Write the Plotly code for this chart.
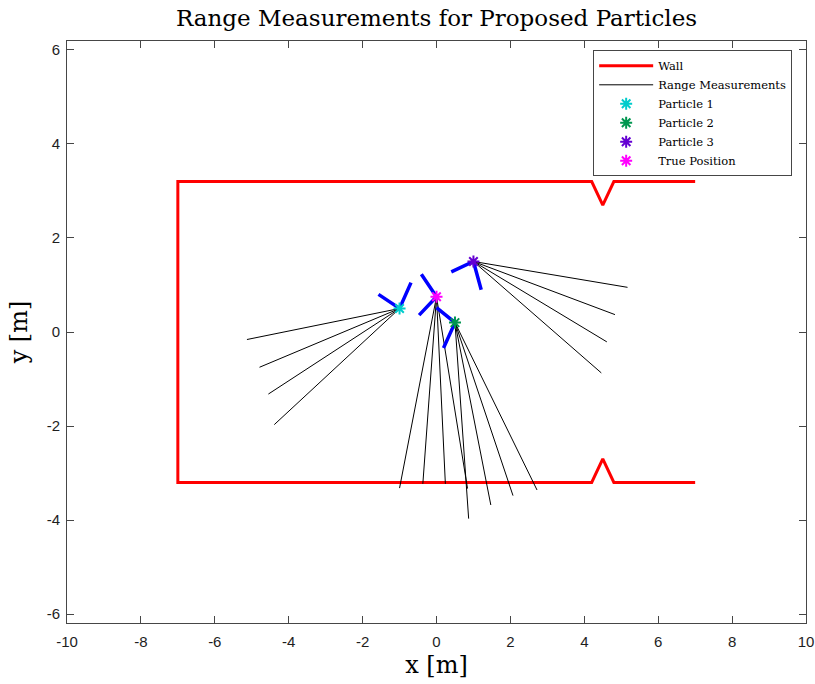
import plotly.graph_objects as go

# ---- data ----
wall_x = [7, 4.8, 4.5, 4.2, -7, -7, 4.2, 4.5, 4.8, 7]
wall_y = [3.2, 3.2, 2.7, 3.2, 3.2, -3.2, -3.2, -2.7, -3.2, -3.2]

names = ["Particle 1", "Particle 2", "Particle 3", "True Position"]
pos_x = [-1.0, 0.5, 1.0, 0.0]
pos_y = [0.5, 0.2, 1.5, 0.75]
colors = ["rgb(0,204,204)", "rgb(0,150,80)", "rgb(100,0,210)", "rgb(255,0,255)"]

# heading glyph endpoints (two segments per pose)
head_a_x = [-1.57, 0.0, 0.40, -0.41]
head_a_y = [0.80, 0.52, 1.28, 1.23]
head_b_x = [-0.69, 0.19, 1.21, -0.47]
head_b_y = [1.05, -0.34, 0.90, 0.36]

# range measurement end points, per pose
range_end_x = [
    [-5.13, -4.79, -4.55, -4.39],
    [0.87, 1.47, 2.07, 2.72],
    [5.17, 4.83, 4.61, 4.46],
    [-1.00, -0.37, 0.24, 0.84],
]
range_end_y = [
    [-0.16, -0.75, -1.32, -1.97],
    [-3.97, -3.68, -3.48, -3.36],
    [0.95, 0.37, -0.21, -0.87],
    [-3.32, -3.23, -3.23, -3.33],
]

x_ticks = [-10, -8, -6, -4, -2, 0, 2, 4, 6, 8, 10]
y_ticks = [-6, -4, -2, 0, 2, 4, 6]

# ---- figure ----
fig = go.Figure()
serif = "DejaVu Serif"

fig.add_trace(go.Scatter(x=wall_x, y=wall_y, mode="lines", name="Wall",
                         line=dict(color="rgb(255,0,0)", width=3)))

rx, ry = [], []
for i in range(len(pos_x)):
    for ex, ey in zip(range_end_x[i], range_end_y[i]):
        rx += [pos_x[i], ex, None]
        ry += [pos_y[i], ey, None]
fig.add_trace(go.Scatter(x=rx, y=ry, mode="lines", name="Range Measurements",
                         line=dict(color="black", width=1)))

hx, hy = [], []
for i in range(len(pos_x)):
    hx += [head_a_x[i], pos_x[i], head_b_x[i], None]
    hy += [head_a_y[i], pos_y[i], head_b_y[i], None]
fig.add_trace(go.Scatter(x=hx, y=hy, mode="lines", showlegend=False,
                         line=dict(color="rgb(0,0,255)", width=3.5)))

for i in range(len(pos_x)):
    fig.add_trace(go.Scatter(x=[pos_x[i]], y=[pos_y[i]], mode="markers", name=names[i],
                             marker=dict(symbol="asterisk-open", size=10,
                                         color=colors[i],
                                         line=dict(color=colors[i], width=2))))

axis_common = dict(showline=True, linecolor="rgb(70,70,70)", linewidth=1,
                   mirror="ticks", ticks="inside", ticklen=7, tickwidth=1,
                   tickcolor="rgb(70,70,70)", showgrid=False, zeroline=False,
                   automargin=False,
                   tickfont=dict(family="Liberation Sans", size=15, color="rgb(30,30,30)"))

fig.update_layout(
    width=815, height=684,
    margin=dict(l=67, r=9, t=41, b=61),
    paper_bgcolor="white", plot_bgcolor="white",
    title=dict(text="Range Measurements for Proposed Particles",
               xref="paper", x=0.5, xanchor="center", y=0.974, yanchor="middle",
               font=dict(family=serif, size=23, color="black")),
    xaxis=dict(range=[-10, 10], tickvals=x_ticks,
               ticktext=[str(v) for v in x_ticks], ticklabelstandoff=5,
               title=dict(text="x [m]", font=dict(family=serif, size=24, color="black"),
                          standoff=7),
               **axis_common),
    yaxis=dict(range=[-6.19, 6.19], tickvals=y_ticks,
               ticktext=[str(v) for v in y_ticks], ticklabelstandoff=3,
               title=dict(text="y [m]", font=dict(family=serif, size=24, color="black"),
                          standoff=12),
               **axis_common),
    legend=dict(x=0.712, y=0.984, xanchor="left", yanchor="top",
                bordercolor="rgb(70,70,70)", borderwidth=1, bgcolor="white",
                font=dict(family=serif, size=11.5, color="black"),
                tracegroupgap=0, itemwidth=54),
    showlegend=True,
)

fig.write_html("out.html")
